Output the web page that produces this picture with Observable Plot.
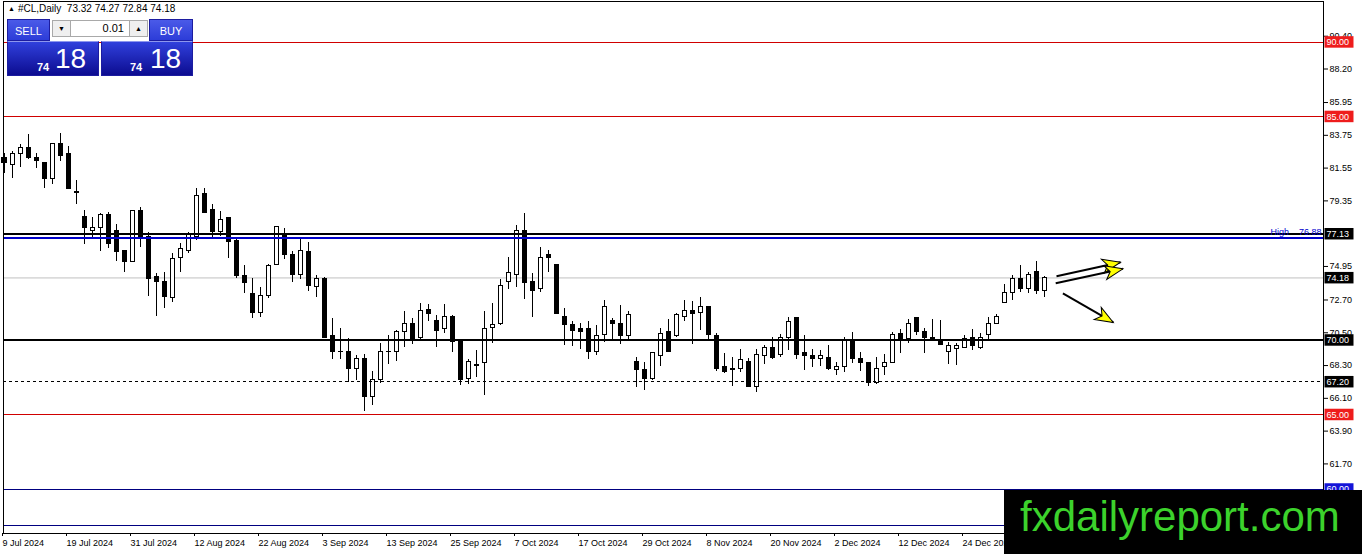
<!DOCTYPE html>
<html><head><meta charset="utf-8">
<script src="https://cdn.jsdelivr.net/npm/d3@7"></script>
<script src="https://cdn.jsdelivr.net/npm/@observablehq/plot@0.6"></script>
<style>
body{margin:0;background:#fff;}
#wrap{position:relative;width:1362px;height:554px;overflow:hidden;font-family:"Liberation Sans",Arial,sans-serif;}
#chart svg{display:block}
.abs{position:absolute;box-sizing:border-box;}
#hdr{left:8px;top:3px;font-size:10px;line-height:12px;white-space:pre;color:#000;}
#hdr .tri{font-size:7px;vertical-align:1px;margin-right:3px;}
.btn{top:19px;height:22px;color:#fff;font-size:11px;line-height:22px;text-align:center;background:linear-gradient(#4a5ae8,#2c3cd8);border:1px solid #1c1ca0;}
.spin{top:20px;width:19px;height:17px;background:#efefef;border:1px solid #a9a9a9;font-size:7px;line-height:15px;text-align:center;color:#000;}
#lot{left:71px;top:20px;width:58px;height:17px;background:#fff;border:1px solid #a9a9a9;border-left:none;border-right:none;font-size:11px;line-height:15px;text-align:right;padding-right:5px;color:#000;}
.big{top:41px;width:92px;height:35px;background:linear-gradient(#3040dc,#0c0c90);border:1px solid #1c1ca0;border-top:1px solid #8d97ee;color:#fff;}
.big .s{position:absolute;font-size:11px;font-weight:bold;line-height:11px;top:20px;}
.big .l{position:absolute;font-size:28px;line-height:28px;top:3px;}
#logo{left:1004px;top:490px;width:358px;height:64px;background:#000;color:#3cd22c;font-size:42px;line-height:42px;padding-left:16px;padding-top:6px;white-space:nowrap;}
</style></head><body>
<div id="wrap">
  <div id="chart"></div>
  <div id="hdr" class="abs"></div>
  <div class="abs btn" style="left:7px;width:43px;">SELL</div>
  <div class="abs spin" style="left:52px;">&#9660;</div>
  <div id="lot" class="abs">0.01</div>
  <div class="abs spin" style="left:129px;">&#9650;</div>
  <div class="abs btn" style="left:149px;width:44px;">BUY</div>
  <div class="abs big" style="left:7px;"><span class="s" style="left:29px;"></span><span class="l" style="left:47px;"></span></div>
  <div class="abs big" style="left:101px;"><span class="s" style="left:28px;"></span><span class="l" style="left:48px;"></span></div>
  <div id="logo" class="abs">fxdailyreport.com</div>
</div>
<script>
// ---- data (daily #CL candles, 9 Jul 2024 onwards) ----
const opens = [82.26,81.79,82.47,82.87,82.20,81.86,80.85,83.14,82.47,79.91,
78.30,77.36,77.50,78.37,77.30,75.96,75.22,78.64,76.90,74.21,
73.88,72.80,75.49,75.96,76.90,79.78,78.77,77.23,78.17,76.63,
74.34,73.07,71.86,72.94,75.08,77.10,75.75,74.41,75.89,73.54,
74.08,70.25,69.24,69.24,68.10,68.77,66.22,67.36,69.24,69.18,
70.52,71.12,70.12,72.06,71.32,70.72,71.53,69.92,67.43,68.30,
68.44,70.79,71.06,73.94,74.41,77.36,73.88,73.41,75.75,75.08,
71.53,70.99,70.72,70.72,69.18,70.38,71.26,71.06,70.25,68.57,
67.97,67.43,68.91,70.58,70.25,71.59,71.99,71.86,72.20,70.25,
68.17,68.04,68.10,68.51,66.83,68.91,69.45,69.04,70.12,71.46,
69.11,68.91,68.77,68.84,67.97,68.17,69.98,68.71,68.44,67.10,
68.17,68.44,70.45,70.05,71.46,70.58,70.18,69.92,69.18,69.38,
69.45,70.18,69.51,70.38,71.12,72.53,73.14,74.08,73.47,74.55,
73.32];
const highs = [82.53,82.67,83.14,83.81,82.53,81.93,83.20,83.87,83.00,80.72,
78.71,78.24,78.51,78.57,77.77,75.96,78.71,78.91,77.23,74.48,
74.55,75.82,76.49,77.23,80.18,80.18,79.11,78.64,78.17,76.83,
75.02,74.14,73.54,75.08,77.63,77.50,75.96,76.83,76.56,74.34,
74.21,71.46,70.79,70.12,68.98,69.04,67.90,69.78,70.32,70.65,
71.93,71.46,72.47,72.40,71.66,72.40,71.66,70.05,68.71,69.31,
71.93,72.47,74.08,75.55,77.70,78.51,74.48,76.22,76.02,75.08,
72.13,71.26,71.12,71.26,70.99,72.67,71.46,72.33,71.93,68.84,
68.51,69.18,70.79,71.39,71.79,72.67,72.60,72.87,72.26,70.45,
69.11,68.84,69.38,68.77,69.38,69.65,70.18,70.38,71.53,71.46,
70.32,69.38,69.31,69.65,68.51,70.18,70.52,69.18,68.51,68.84,
69.04,70.52,70.72,71.39,71.46,70.79,71.39,71.32,69.85,69.78,
70.32,70.72,70.45,71.53,71.73,73.74,74.34,75.02,74.55,75.28,
74.27];
const lows = [81.19,80.85,81.59,82.13,81.53,80.18,80.45,82.00,80.10,79.11,
76.43,76.90,75.96,76.16,75.28,74.55,75.22,76.22,72.94,71.59,
72.13,72.53,74.55,75.82,76.69,78.57,76.76,76.96,75.49,74.14,
73.14,71.46,71.53,72.80,75.02,75.42,73.88,74.08,73.27,72.87,
70.18,68.71,68.71,67.16,67.30,65.22,65.62,67.10,68.37,68.57,
69.51,69.71,70.05,71.26,69.51,70.45,69.18,66.96,67.03,67.50,
66.29,69.78,70.99,73.41,73.54,72.73,71.53,73.20,74.55,71.73,
69.65,69.58,69.38,68.71,68.98,69.85,69.98,69.71,69.98,66.83,
66.63,67.30,68.24,69.22,70.18,71.26,69.71,70.65,70.05,67.90,
67.77,66.89,67.83,66.81,66.49,68.37,68.71,68.84,69.31,68.71,
67.97,68.17,68.24,67.97,67.63,67.83,68.44,67.90,66.89,67.03,
67.63,68.44,69.11,69.78,70.32,69.11,70.04,69.65,68.37,68.30,
69.45,69.31,69.38,70.05,71.06,72.53,72.67,73.20,73.14,73.07,
72.84];
const closes = [81.86,82.47,82.87,82.20,82.00,80.85,83.14,82.33,80.12,79.92,
77.50,77.50,78.37,76.43,75.89,75.22,78.64,76.90,74.14,73.88,
72.87,75.42,76.09,77.03,79.65,78.57,77.23,78.10,76.56,74.34,
73.81,71.86,73.00,74.95,77.57,75.75,74.41,76.02,73.67,74.08,
70.18,69.18,69.22,68.10,68.77,66.22,67.36,69.18,69.20,70.52,
71.12,70.05,71.99,71.73,70.65,71.53,69.85,67.36,68.57,68.32,
70.72,70.99,73.67,74.48,77.30,73.81,73.27,75.55,75.49,71.79,
70.99,70.65,70.58,69.24,70.25,72.20,71.06,70.25,71.66,67.97,
67.43,69.11,70.45,69.24,71.66,71.99,71.79,72.20,70.38,68.10,
67.90,67.97,68.64,66.83,69.04,69.45,68.84,70.12,71.19,69.04,
68.91,68.77,68.91,68.10,68.17,69.98,68.71,68.44,67.10,68.10,
68.44,70.38,70.05,71.06,70.58,70.18,70.05,69.71,69.58,69.58,
70.05,69.58,70.18,71.12,71.53,73.14,74.08,73.41,74.41,73.27,
74.18];

const tickIdx = [0,8,16,24,32,40,48,56,64,72,80,88,96,104,112,120];
const tickLabels = ["9 Jul 2024","19 Jul 2024","31 Jul 2024","12 Aug 2024","22 Aug 2024","3 Sep 2024","13 Sep 2024","25 Sep 2024","7 Oct 2024","17 Oct 2024","29 Oct 2024","8 Nov 2024","20 Nov 2024","2 Dec 2024","12 Dec 2024","24 Dec 2024"];
const yTicks = [90.40,88.20,85.95,83.75,81.55,79.35,74.95,72.70,70.50,68.30,66.10,63.90,61.70];

const redLevels = [90.00, 85.00, 65.00];
const navyLevels = [60.00, 57.55];
const resistanceLevel = 77.13;
const highLevel = 76.88;
const bidLevel = 74.18;
const supportLevel = 70.00;
const dashedLevel = 67.20;

const boxPrices = [90.00, 85.00, 77.13, 74.18, 70.00, 67.20, 65.00, 60.00];
const boxColors = ["#ee1c1c","#ee1c1c","#000000","#000000","#000000","#000000","#ee1c1c","#1414d8"];

const arrowX1 = [131.5, 131.4, 132.3];
const arrowY1 = [74.29, 73.83, 73.15];
const arrowX2 = [139.5, 139.8, 138.6];
const arrowY2 = [75.23, 74.79, 71.19];

// ---- build ----
const candles = opens.map((o, i) => ({i, open: o, high: highs[i], low: lows[i], close: closes[i]}));
const labelByIdx = new Map(tickIdx.map((t, k) => [t, tickLabels[k]]));
const boxes = boxPrices.map((p, k) => ({price: p, color: boxColors[k]}));

const W = 1362, H = 554, mL = 3, mR = 39, mT = 1, mB = 21;
const xDomain = [-0.125, 164.875];
const yDomain = [57.03, 92.73];
const pxPerBar = (W - mL - mR) / (xDomain[1] - xDomain[0]);
const pxPerUnit = (H - mT - mB) / (yDomain[1] - yDomain[0]);
const arrows = arrowX1.map((x1, k) => ({
  x1, y1: arrowY1[k], x2: arrowX2[k], y2: arrowY2[k],
  angle: Math.atan2((arrowX2[k] - x1) * pxPerBar, (arrowY2[k] - arrowY1[k]) * pxPerUnit) * 180 / Math.PI
}));

const headSymbol = {draw(ctx) { ctx.moveTo(0, 0); ctx.lineTo(-7, 18); ctx.lineTo(0, 13); ctx.lineTo(7, 18); ctx.closePath(); }};
const boxSymbol = {draw(ctx) { ctx.moveTo(1, -6); ctx.lineTo(30, -6); ctx.lineTo(30, 5.5); ctx.lineTo(1, 5.5); ctx.closePath(); }};

const font = '"Liberation Sans", Arial, sans-serif';
const chart = Plot.plot({
  width: W, height: H, marginLeft: mL, marginRight: mR, marginTop: mT, marginBottom: mB,
  style: {fontFamily: font, fontSize: "9px", background: "white", color: "black", overflow: "visible"},
  x: {type: "linear", domain: xDomain},
  y: {domain: yDomain},
  color: {type: "identity"},
  marks: [
    Plot.ruleY([bidLevel], {stroke: "#c0c0c0", strokeWidth: 1}),
    Plot.ruleX(candles, {x: "i", y1: "low", y2: "high", stroke: "black", strokeWidth: 1, shapeRendering: "crispEdges"}),
    Plot.rect(candles, {x1: d => d.i - 0.25, x2: d => d.i + 0.25, y1: "open", y2: "close",
      fill: d => d.close >= d.open ? "white" : "black", stroke: "black", strokeWidth: 1, shapeRendering: "crispEdges"}),
    Plot.ruleY(redLevels, {stroke: "#d00000", strokeWidth: 1, shapeRendering: "crispEdges"}),
    Plot.ruleY(navyLevels, {stroke: "#000080", strokeWidth: 1, shapeRendering: "crispEdges"}),
    Plot.ruleY([dashedLevel], {stroke: "black", strokeWidth: 1, strokeDasharray: "3,3", shapeRendering: "crispEdges"}),
    Plot.ruleY([highLevel], {stroke: "#0000cc", strokeWidth: 2, shapeRendering: "crispEdges"}),
    Plot.ruleY([resistanceLevel, supportLevel], {stroke: "black", strokeWidth: 2, shapeRendering: "crispEdges"}),
    Plot.text([highLevel], {y: d => d, text: d => `High    ${d.toFixed(2)}`, frameAnchor: "right", textAnchor: "end", dx: -2, dy: -6, fill: "#0000cc", fontSize: 9}),
    Plot.link(arrows, {x1: "x1", y1: "y1", x2: "x2", y2: "y2", stroke: "black", strokeWidth: 2}),
    Plot.dot(arrows, {x: "x2", y: "y2", symbol: headSymbol, rotate: "angle", fill: "#ffff00", stroke: "black", strokeWidth: 1}),
    Plot.frame({stroke: "black"}),
    Plot.axisX({ticks: tickIdx, tickFormat: d => labelByIdx.get(d), tickSize: 3, tickPadding: 3, textAnchor: "start", dx: -2, label: null, fontSize: 9}),
    Plot.axisY({anchor: "right", ticks: yTicks, tickFormat: d => d.toFixed(2), tickSize: 4, tickPadding: 2, label: null, fontSize: 9}),
    Plot.dot(boxes, {y: "price", frameAnchor: "right", symbol: boxSymbol, fill: "color", stroke: null}),
    Plot.text(boxes, {y: "price", text: d => d.price.toFixed(2), frameAnchor: "right", textAnchor: "start", dx: 3, fill: "white", fontSize: 9})
  ]
});
document.getElementById("chart").appendChild(chart);

// header + trade panel text from the data
const last = candles[candles.length - 1];
const hdr = document.getElementById("hdr");
hdr.innerHTML = '<span class="tri">&#9650;</span>';
hdr.appendChild(document.createTextNode(`#CL,Daily  ${last.open.toFixed(2)} ${last.high.toFixed(2)} ${last.low.toFixed(2)} ${last.close.toFixed(2)}`));
const [bidInt, bidFrac] = last.close.toFixed(2).split(".");
document.querySelectorAll(".big .s").forEach(e => e.textContent = bidInt);
document.querySelectorAll(".big .l").forEach(e => e.textContent = bidFrac);
</script>
</body></html>
